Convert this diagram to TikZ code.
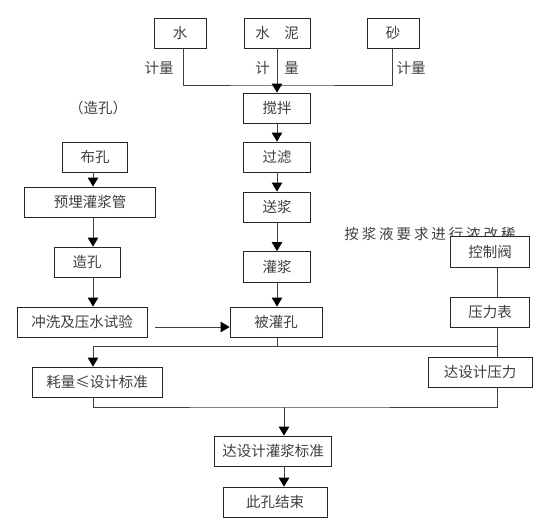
\documentclass[tikz,border=0pt]{standalone}
\usepackage{fontspec}
\setmainfont{Noto Sans CJK SC}
\newfontfamily\widecjk[LetterSpace=20]{Noto Sans CJK SC}
\usetikzlibrary{positioning,arrows.meta,calc}
\begin{document}
\begin{tikzpicture}[x=1pt,y=-1pt,
  >={Triangle[width=10.5pt,length=9pt,color=black]},
  line width=0.8pt,color=black!75,
  font=\fontsize{14.5}{16}\selectfont,
  box/.style={draw=black!85,fill=white,minimum height=30,inner sep=0},
  lbl/.style={inner sep=0}
  ]
  \useasboundingbox (0,0) rectangle (553,522);

  \node[box,minimum width=52] (water) at (180,33) {水};
  \node[box,minimum width=66] (cement) at (277,33) {水\hspace{1em}泥};
  \node[box,minimum width=52] (sand) at (393,33) {砂};
  \node[lbl] (wlab) at (159,68) {计量};
  \node[lbl] (clab) at (277,68) {计\hspace{1em}量};
  \node[lbl] (slab) at (411,68) {计量};

  \node[box,minimum width=67] (mix) at (277,108) {搅拌};
  \node[box,minimum width=67] (filter) at (277,157) {过滤};
  \node[box,minimum width=67] (feed) at (277,207) {送浆};
  \node[box,minimum width=67,minimum height=31] (grout) at (277,267) {灌浆};
  \node[box,minimum width=92] (hole) at (276,322) {被灌孔};

  \node[lbl] (drill) at (98,108) {（造孔）};
  \node[box,minimum width=65] (layout) at (95,157) {布孔};
  \node[box,minimum width=131] (pipe) at (90,202) {预埋灌浆管};
  \node[box,minimum width=66] (bore) at (87,262) {造孔};
  \node[box,minimum width=130] (wash) at (82,322) {冲洗及压水试验};
  \node[box,minimum width=130] (usage) at (97,382) {耗量≤设计标准};

  \node[lbl,font=\widecjk\fontsize{14.5}{16}\selectfont] (note) at (430,234) {按浆液要求进行浓改稀};
  \node[box,minimum width=79,minimum height=31] (valve) at (490,252) {控制阀};
  \node[box,minimum width=79] (gauge) at (490,312) {压力表};
  \node[box,minimum width=104] (press) at (480,372) {达设计压力};

  \node[box,minimum width=117] (std) at (273,451) {达设计灌浆标准};
  \node[box,minimum width=104] (done) at (275,502) {此孔结束};

  \coordinate (lx) at (93,0);
  \coordinate (rx) at (497,0);
  \coordinate (mixin) at (277,85);
  \coordinate (split) at (277,346);
  \coordinate (merge) at (284,407);

  \draw ([xshift=3]water.south) |- (mixin) -| ([xshift=-1]sand.south);
  \draw[->] (cement) -- (mix);
  \draw[->] (mix) -- (filter);
  \draw[->] (filter) -- (feed);
  \draw[->] (feed) -- (grout);
  \draw[->] (grout) -- (grout.south |- hole.north);

  \draw[->] (layout.south -| lx) -- (pipe.north -| lx);
  \draw[->] (pipe.south -| lx) -- (bore.north -| lx);
  \draw[->] (bore.south -| lx) -- (wash.north -| lx);
  \draw[->,shorten <=8] ([yshift=-5]wash.east) -- ([yshift=-5]hole.west);

  \draw (hole.south -| split) -- (split);
  \draw (split -| lx) -- (split -| rx);
  \draw[->] (split -| lx) -- (usage.north -| lx);
  \draw (valve.south -| rx) -- (gauge.north -| rx);
  \draw (gauge.south -| rx) -- (press.north -| rx);
  \draw (usage.south -| lx) |- (merge) -| (press.south -| rx);
  \draw[->] (merge) -- (std.north -| merge);
  \draw[->] (std.south -| merge) -- (done.north -| merge);
\end{tikzpicture}
\end{document}
